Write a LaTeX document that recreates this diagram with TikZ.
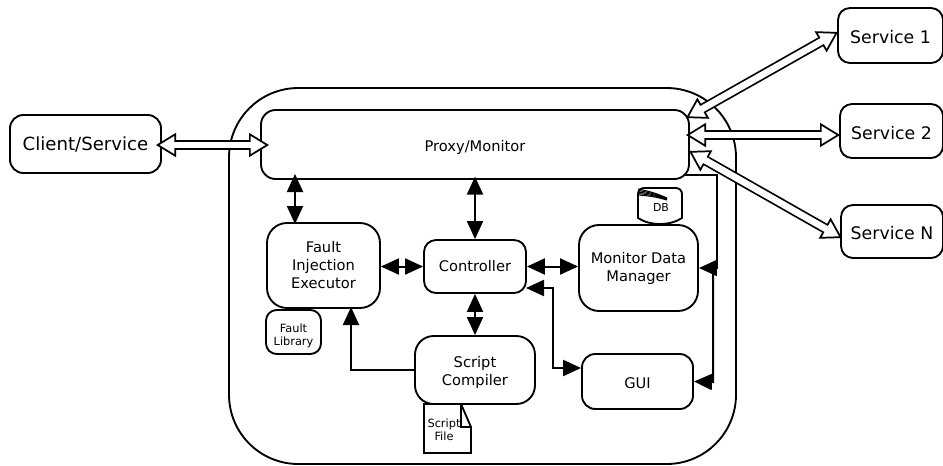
\documentclass[tikz,border=0pt]{standalone}
\usepackage{fontspec}
\setmainfont{DejaVu Sans}
\usetikzlibrary{arrows.meta}

\begin{document}
\begin{tikzpicture}[
   x = 0.75pt, y = -0.75pt,
   line width = 1.4pt,
   blockbox/.style 2 args = {draw, fill=white, align=center, inner sep=0pt, minimum width=#1*0.75pt, minimum height=#2*0.75pt},
   mainfont/.style = {font=\fontsize{11}{13.5}\selectfont},
   smallfont/.style = {font=\fontsize{8.5}{9.9}\selectfont},
   servicefont/.style = {font=\fontsize{13}{15}\selectfont, text height=12.5pt, text depth=0pt},
   solidtip/.tip = {Triangle[length=13.5pt, width=12pt]},
   blockarrow/.style = {line width=1.5pt, solidtip-solidtip},
   onearrow/.style = {line width=1.5pt, -solidtip},
   hollowtip/.tip = {Triangle[fill=white, line width=1.3pt, length=15pt, width=18pt]},
   hollowarrow/.style = {line width=7.6pt, hollowtip-hollowtip,
      postaction = {draw=white, -, line width=5pt, shorten <=12pt, shorten >=12pt}}]
   \useasboundingbox (0,0) rectangle (943,465);

   \draw[rounded corners=52pt] (229,88) rectangle (736,464);

   \node[blockbox={151}{58}, rounded corners=10pt, font=\fontsize{13.6}{16}\selectfont, text height=11.5pt] (client) at (85.5,144) {Client/Service};
   \node[blockbox={428}{69}, rounded corners=11pt, mainfont, text height=11pt, text depth=0pt] (proxy) at (475,144.5) {Proxy/Monitor};
   \node[blockbox={113}{85}, rounded corners=15pt, mainfont] (fault) at (323.5,265.5) {Fault\\Injection\\Executor};
   \node[blockbox={102}{53}, rounded corners=9pt, mainfont] (controller) at (475,266.5) {Controller};
   \node[blockbox={119}{86}, rounded corners=15pt, mainfont] (monitor) at (638.5,268) {Monitor Data\\Manager};
   \node[blockbox={120}{68}, rounded corners=14pt, mainfont, text height=25pt] (compiler) at (475,370) {Script\\Compiler};
   \node[blockbox={111}{55}, rounded corners=10pt, mainfont, text height=11pt, text depth=0pt] (gui) at (637.5,381.5) {GUI};
   \node[blockbox={55}{44}, rounded corners=8pt, smallfont, text height=22pt] (library) at (293.5,332) {Fault\\Library};
   \node[blockbox={105}{55}, rounded corners=9pt, servicefont] (service1) at (890.5,35.5) {Service 1};
   \node[blockbox={103}{54}, rounded corners=9pt, servicefont] (service2) at (891.5,131) {Service 2};
   \node[blockbox={102}{53}, rounded corners=9pt, servicefont] (serviceN) at (892,231.5) {Service N};

   \draw (424,404) -- (461,404) -- (471,427) -- (471,453) -- (424,453) -- cycle;
   \draw (461,404) -- (461,427) -- (471,427);
   \node[smallfont, align=center] (scriptfile) at (444,430) {Script\\File};

   \draw (644,188) -- (676,188) to[out=0, in=90] (682,194) -- (682,218)
      .. controls (670,226) and (650,226) .. (638,218) -- (638,194) to[out=90, in=180] (644,188);
   \foreach \i in {0,1.5,3,4.5,6}
      \draw[line width=0.8pt] (638,189+\i) to[bend left=6] (667,198+\i/3);
   \node[font=\fontsize{8.2}{10}\selectfont] (db) at (661,208) {DB};

   \coordinate (p1) at (686,118);
   \coordinate (p2) at (686,135);
   \coordinate (p3) at (689,151);
   \coordinate (s1) at (838,32);
   \coordinate (s2) at (840,135);
   \coordinate (sN) at (842,238);
   \coordinate (c1) at (156,145);
   \coordinate (c2) at (269,145);
   \draw[hollowarrow] (c1) -- (c2);
   \draw[hollowarrow] (p1) -- (s1);
   \draw[hollowarrow] (p2) -- (s2);
   \draw[hollowarrow] (p3) -- (sN);

   \draw[blockarrow] (295,174) -- (295,224);
   \draw[blockarrow] ([yshift=2.5pt]proxy.south) -- (controller.north);
   \draw[blockarrow] (fault.east |- controller.west) -- (controller.west);
   \draw[blockarrow] (controller.east) -- (monitor.west |- controller.east);
   \draw[blockarrow] (controller.south) -- (compiler.north);
   \draw[onearrow] (compiler.west) -- (351,370) -- (351,307);

   \coordinate (c3) at (526,288);
   \draw[blockarrow] (c3) -- (553,288) -- (553,368) -- (gui.west |- 0,368);

   \coordinate (p4) at (684,175);
   \draw[onearrow] (p4) -- (717,175) -- (717,268) -- (monitor.east);
   \draw[onearrow] (713,268) -- (713,382) -- (gui.east);
\end{tikzpicture}
\end{document}
